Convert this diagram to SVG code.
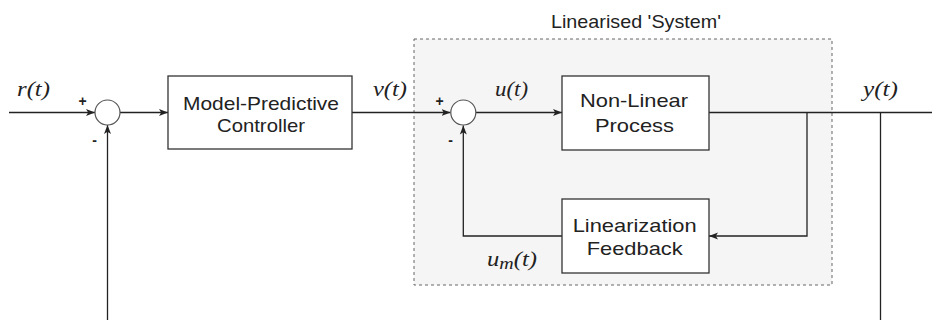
<svg xmlns="http://www.w3.org/2000/svg" width="932" height="320" viewBox="0 0 932 320">
<style>
.box{fill:#fff;stroke:#333;stroke-width:1.3}
.sum{fill:#fff;stroke:#555;stroke-width:1.2}
.ln{fill:none;stroke:#222;stroke-width:1.3}
.lbl{font-family:"Liberation Sans",Arial,sans-serif;font-size:19px;fill:#222;text-anchor:middle}
.math{font-family:"Liberation Serif","DejaVu Serif",serif;font-style:italic;font-size:21px;fill:#222}
.sign{font-family:"Liberation Sans",Arial,sans-serif;font-size:14px;font-weight:bold;fill:#222;text-anchor:middle}
</style>
<defs>
<marker id="arr" markerWidth="10" markerHeight="8" refX="9" refY="4" orient="auto" markerUnits="userSpaceOnUse">
<path d="M0,0.5 L9,4 L0,7.5 L2.2,4 Z" fill="#222"/>
</marker>
</defs>
<rect x="0" y="0" width="932" height="320" fill="#fff"/>
<g id="system">
<rect x="414" y="39" width="418" height="246" fill="#f5f5f5" stroke="#666" stroke-width="1" stroke-dasharray="3 3"/>
<text class="lbl" x="636" y="27.5" font-size="17" textLength="170" lengthAdjust="spacingAndGlyphs">Linearised 'System'</text>
</g>
<g id="connectors">
<line class="ln" x1="9" y1="112.5" x2="95" y2="112.5" marker-end="url(#arr)"/>
<line class="ln" x1="120" y1="112.5" x2="168" y2="112.5" marker-end="url(#arr)"/>
<line class="ln" x1="352" y1="112.5" x2="450.5" y2="112.5" marker-end="url(#arr)"/>
<line class="ln" x1="476" y1="112.5" x2="562" y2="112.5" marker-end="url(#arr)"/>
<line class="ln" x1="709" y1="112.5" x2="932" y2="112.5"/>
<polyline class="ln" points="807,112.5 807,236 709,236" marker-end="url(#arr)"/>
<polyline class="ln" points="562,236 463.3,236 463.3,125.5" marker-end="url(#arr)"/>
<line class="ln" x1="107.5" y1="320" x2="107.5" y2="125" marker-end="url(#arr)"/>
<line class="ln" x1="880.5" y1="112.5" x2="880.5" y2="320"/>
</g>
<g id="sum1">
<circle class="sum" cx="107.5" cy="112.5" r="12.5"/>
<text class="sign" x="82.5" y="106">+</text>
<text class="sign" x="94.5" y="145">-</text>
</g>
<g id="mpc">
<rect class="box" x="168" y="76" width="184" height="73"/>
<text class="lbl" x="261" y="110" textLength="156" lengthAdjust="spacingAndGlyphs">Model-Predictive</text>
<text class="lbl" x="261" y="132" textLength="88" lengthAdjust="spacingAndGlyphs">Controller</text>
</g>
<g id="sum2">
<circle class="sum" cx="463.3" cy="112.5" r="12.5"/>
<text class="sign" x="439.5" y="106">+</text>
<text class="sign" x="450.5" y="145">-</text>
</g>
<g id="process">
<rect class="box" x="562" y="76" width="147" height="74"/>
<text class="lbl" x="634" y="107" textLength="108" lengthAdjust="spacingAndGlyphs">Non-Linear</text>
<text class="lbl" x="634.5" y="132" textLength="79" lengthAdjust="spacingAndGlyphs">Process</text>
</g>
<g id="feedback">
<rect class="box" x="562" y="199" width="147" height="74"/>
<text class="lbl" x="634.7" y="231.5" textLength="124" lengthAdjust="spacingAndGlyphs">Linearization</text>
<text class="lbl" x="634.7" y="254.5" textLength="96" lengthAdjust="spacingAndGlyphs">Feedback</text>
</g>
<g id="labels">
<text class="math" x="17" y="96" textLength="33" lengthAdjust="spacingAndGlyphs">r(t)</text>
<text class="math" x="373" y="96" textLength="34" lengthAdjust="spacingAndGlyphs">v(t)</text>
<text class="math" x="495" y="96" textLength="33" lengthAdjust="spacingAndGlyphs">u(t)</text>
<text class="math" x="863" y="96" textLength="35" lengthAdjust="spacingAndGlyphs">y(t)</text>
<text class="math" x="487" y="266" textLength="50" lengthAdjust="spacingAndGlyphs">u<tspan font-size="17" dy="3">m</tspan><tspan dy="-3">(t)</tspan></text>
</g>
</svg>
